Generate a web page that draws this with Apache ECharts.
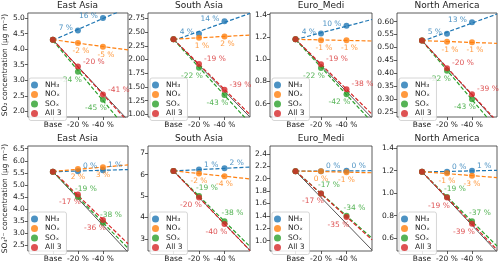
<!DOCTYPE html>
<html><head><meta charset="utf-8">
<script src="https://cdn.jsdelivr.net/npm/echarts@6/dist/echarts.min.js"></script>
<style>html,body{margin:0;padding:0;background:#fff}#c{width:500px;height:267px}</style>
</head><body><div id="c"></div>
<script>
// ---------- data ----------
const regions = ['East Asia', 'South Asia', 'Euro_Medi', 'North America'];
const xCats = ['Base', '-20 %', '-40 %'];
const seriesNames = ['NH₃', 'NOₓ', 'SOₓ', 'All 3'];

// SO2 concentration [Base, -20 %, -40 %] per region
const so2_NH3 = [[4.30, 4.60, 5.00], [2.37, 2.47, 2.70], [1.18, 1.23, 1.30], [0.527, 0.553, 0.597]];
const so2_NOx = [[4.30, 4.20, 4.08], [2.37, 2.40, 2.42], [1.18, 1.17, 1.17], [0.527, 0.522, 0.520]];
const so2_SOx = [[4.30, 3.27, 2.37], [2.37, 1.85, 1.35], [1.18, 0.92, 0.685], [0.527, 0.41, 0.30]];
const so2_All = [[4.30, 3.44, 2.54], [2.37, 1.92, 1.45], [1.18, 0.955, 0.73], [0.527, 0.42, 0.32]];
const so2_NH3_pct = [[7, 16], [4, 14], [4, 10], [5, 13]];
const so2_NOx_pct = [[-2, -5], [1, 2], [-1, -1], [-1, -1]];
const so2_SOx_pct = [[-24, -45], [-22, -43], [-22, -42], [-22, -43]];
const so2_All_pct = [[-20, -41], [-19, -39], [-19, -38], [-20, -39]];

// SO4 concentration
const so4_NH3 = [[5.55, 5.57, 5.61], [6.17, 6.23, 6.29], [2.12, 2.12, 2.125], [1.19, 1.19, 1.20]];
const so4_NOx = [[5.55, 5.66, 5.73], [6.17, 6.05, 5.92], [2.12, 2.12, 2.10], [1.19, 1.178, 1.154]];
const so4_SOx = [[5.55, 4.50, 3.44], [6.17, 5.00, 3.82], [2.12, 1.76, 1.40], [1.19, 0.965, 0.75]];
const so4_All = [[5.55, 4.61, 3.55], [6.17, 4.93, 3.70], [2.12, 1.76, 1.38], [1.19, 0.96, 0.726]];
const so4_NH3_pct = [[0, 1], [1, 2], [0, 0], [0, 1]];
const so4_NOx_pct = [[2, 3], [-2, -4], [0, -1], [-1, -3]];
const so4_SOx_pct = [[-19, -38], [-19, -38], [-17, -34], [-19, -37]];
const so4_All_pct = [[-17, -36], [-20, -40], [-17, -35], [-19, -39]];

// axis ranges and tick labels
const so2_yRange = [[1.82, 5.16], [0.95, 2.85], [0.48, 1.415], [0.232, 0.633]];
const so4_yRange = [[2.27, 6.61], [2.44, 7.33], [0.833, 2.525], [0.484, 1.42]];
const so2_yTicks = [[2.0, 2.5, 3.0, 3.5, 4.0, 4.5, 5.0], [1.00, 1.25, 1.50, 1.75, 2.00, 2.25, 2.50, 2.75], [0.6, 0.8, 1.0, 1.2, 1.4], [0.25, 0.30, 0.35, 0.40, 0.45, 0.50, 0.55, 0.60]];
const so4_yTicks = [[2.5, 3.0, 3.5, 4.0, 4.5, 5.0, 5.5, 6.0, 6.5], [3, 4, 5, 6, 7], [1.0, 1.2, 1.4, 1.6, 1.8, 2.0, 2.2, 2.4], [0.6, 0.8, 1.0, 1.2, 1.4]];
const so2_dec = [1, 2, 1, 2];
const so4_dec = [1, 0, 1, 1];

// ---------- layout / style ----------
const colors = ['#1f77b4', '#ff7f0e', '#2ca02c', '#d62728'];
const xMin = -1, xMax = 3;
const cols = [{left: 27, width: 101}, {left: 148, width: 102}, {left: 270, width: 102}, {left: 397, width: 100}];
const rows = [
  {top: 13, height: 104, vals: [so2_NH3, so2_NOx, so2_SOx, so2_All], pcts: [so2_NH3_pct, so2_NOx_pct, so2_SOx_pct, so2_All_pct],
   yr: so2_yRange, ticks: so2_yTicks, dec: so2_dec, yname: 'SO₂ concentration (μg m⁻³)',
   lab: [{position: 'left', distance: 2, offset: [0, -2]}, {position: 'bottom', distance: 1, offset: [3, 0]},
         {position: 'bottom', distance: 1, offset: [-7, 0]}, {position: 'right', distance: 2, offset: [0, -5]}]},
  {top: 146, height: 105, vals: [so4_NH3, so4_NOx, so4_SOx, so4_All], pcts: [so4_NH3_pct, so4_NOx_pct, so4_SOx_pct, so4_All_pct],
   yr: so4_yRange, ticks: so4_yTicks, dec: so4_dec, yname: 'SO₄²⁻ concentration (μg m⁻³)',
   lab: [{position: 'right', distance: 2, offset: [0, -5]}, {position: 'bottom', distance: 1, offset: [0, 0]},
         {position: 'top', distance: 1, offset: [8, 0]}, {position: 'bottom', distance: 1, offset: [-8, 0]}]}
];
const txt = '#222';
const FF = 'DejaVu Sans';

const grid = [], xAxis = [], yAxis = [], series = [], legend = [], graphic = [];
rows.forEach((row, r) => {
  cols.forEach((col, c) => {
    const g = r * 4 + c;
    grid.push({left: col.left, top: row.top, width: col.width, height: row.height, show: true,
      borderColor: '#333', borderWidth: 0.8, backgroundColor: 'transparent'});
    xAxis.push({type: 'value', gridIndex: g, min: xMin, max: xMax,
      axisLine: {show: false, onZero: false}, splitLine: {show: false},
      axisTick: {show: true, length: 3, lineStyle: {color: '#333', width: 0.8}, customValues: [0, 1, 2]},
      axisLabel: {customValues: [0, 1, 2], formatter: v => xCats[Math.round(v)], fontSize: 7.5, color: txt, margin: 4, fontFamily: FF}});
    const yax = {type: 'value', gridIndex: g, min: row.yr[c][0], max: row.yr[c][1],
      axisLine: {show: false, onZero: false}, splitLine: {show: false},
      axisTick: {show: true, length: 3, lineStyle: {color: '#333', width: 0.8}, customValues: row.ticks[c]},
      axisLabel: {customValues: row.ticks[c], formatter: v => Number(v).toFixed(row.dec[c]), fontSize: 7.5, color: txt, margin: 3, fontFamily: FF}};
    if (c === 0) {
      Object.assign(yax, {name: row.yname, nameLocation: 'middle', nameGap: 16, nameRotate: 90,
        nameTextStyle: {fontSize: 7.5, color: txt, fontFamily: FF}});
    }
    yAxis.push(yax);
    graphic.push({type: 'text', x: col.left + col.width / 2, y: row.top - 7,
      style: {text: regions[c], textAlign: 'center', textVerticalAlign: 'middle', fontSize: 9, fill: txt, fontFamily: FF}});

    // 1:1 proportional reduction line
    const base = row.vals[0][c][0];
    series.push({type: 'line', xAxisIndex: g, yAxisIndex: g, symbol: 'none', silent: true, z: 1,
      data: [[0, base], [xMax, base * (1 - 0.2 * xMax)]], lineStyle: {color: '#555', width: 1}});

    row.vals.forEach((arr, s) => {
      const v = arr[c];
      // least-squares trend through the three points (x = 0,1,2)
      const my = (v[0] + v[1] + v[2]) / 3;
      const slope = (v[2] - v[0]) / 2;
      const icpt = my - slope;
      series.push({type: 'line', xAxisIndex: g, yAxisIndex: g, symbol: 'none', silent: true, z: 2,
        data: [[0, icpt], [xMax, icpt + slope * xMax]], lineStyle: {color: colors[s], width: 1.2, type: [4, 2]}});
    });
    row.vals.forEach((arr, s) => {
      const v = arr[c];
      const p = row.pcts[s][c];
      series.push({type: 'scatter', name: seriesNames[s], xAxisIndex: g, yAxisIndex: g, z: 3,
        symbolSize: 6, itemStyle: {color: colors[s], opacity: 0.8},
        data: [[0, v[0]], [1, v[1]], [2, v[2]]],
        label: Object.assign({show: true, fontSize: 7.5, color: colors[s], fontFamily: FF,
          formatter: prm => prm.dataIndex === 0 ? '' : (p[prm.dataIndex - 1] + ' %')}, row.lab[s])});
    });
    legend.push({orient: 'vertical', left: col.left + 2, top: row.top + row.height - 39,
      data: seriesNames, icon: 'circle', itemWidth: 11, itemHeight: 7, itemGap: 1.5,
      padding: [3, 5, 3, 2], selectedMode: false,
      textStyle: {fontSize: 7.5, color: txt, fontFamily: FF},
      borderColor: '#ccc', borderWidth: 0.8, borderRadius: 2, backgroundColor: 'rgba(255,255,255,0.85)'});
  });
});

const chart = echarts.init(document.getElementById('c'), null, {renderer: 'canvas'});
chart.setOption({animation: false, textStyle: {fontFamily: FF}, grid, xAxis, yAxis, series, legend, graphic});
</script>
</body></html>
